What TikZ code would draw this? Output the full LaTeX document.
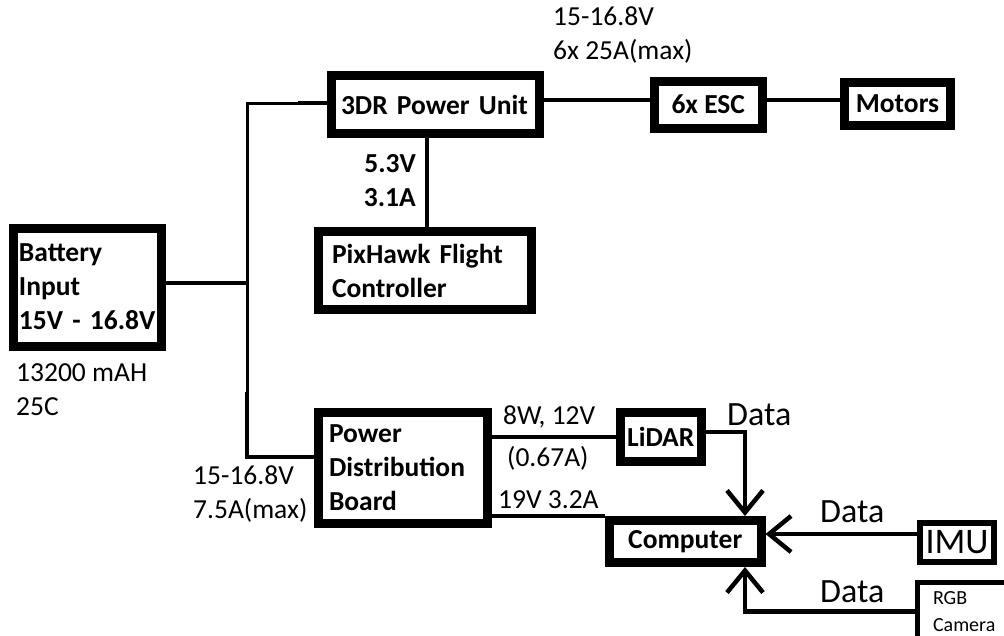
\documentclass[tikz,border=0pt]{standalone}
\usepackage{fontspec}
\setmainfont{Carlito}
\usetikzlibrary{arrows.meta}
\tikzset{
  blk/.style={draw, line width=9pt, inner sep=0pt, font=\bfseries\fontsize{27.5}{34}\selectfont},
  lbl/.style={inner sep=0pt, font=\fontsize{27.5}{34}\selectfont, align=left},
  blbl/.style={inner sep=0pt, font=\bfseries\fontsize{27.5}{34}\selectfont},
  wire/.style={line width=4.5pt},
  thinwire/.style={line width=3pt},
  dataarrow/.style={line width=4.5pt, -{Straight Barb[length=22pt,width=36pt]}},
  datalbl/.style={inner sep=0pt, font=\fontsize{34}{40}\selectfont},
}
\begin{document}
\begin{tikzpicture}[x=1pt,y=-1pt]
\clip (0,0) rectangle (1004,635);
\fill[white] (0,0) rectangle (1004,635);

% boxes
\node[blk, minimum width=148pt, minimum height=118pt, inner xsep=5.5pt, text width=137pt, align=left] (bat) at (87.5,287) {Battery\\Input\\15V - 16.8V};
\node[blk, minimum width=208pt, minimum height=58pt, inner xsep=9.5pt, text width=189pt, align=left] (pu) at (435.5,104.5) {3DR Power Unit};
\node[blk, minimum width=213pt, minimum height=78pt, inner xsep=13.5pt, text width=186pt, align=left] (pix) at (425,270.5) {PixHawk Flight\\Controller};
\node[blk, minimum width=107.5pt, minimum height=47pt] (esc) at (708.25,104.5) {6x ESC};
\node[blk, minimum width=106pt, minimum height=43pt] (mot) at (897.5,104) {Motors};
\node[blk, minimum width=169pt, minimum height=111pt, inner xsep=11pt, text width=147pt, align=left] (pdb) at (402.5,468) {Power\\Distribution\\Board};
\node[blk, minimum width=80.5pt, minimum height=49pt] (lid) at (660.75,437) {LiDAR};
\node[blk, minimum width=151.5pt, minimum height=42pt] (comp) at (685.25,541.5) {Computer};
\node[blk, line width=6pt, minimum width=74pt, minimum height=39pt, font=\fontsize{36}{40}\selectfont] (imu) at (957,542.5) {IMU};
\node[blk, line width=5pt, minimum width=112.5pt, minimum height=57.5pt, inner xsep=15.5pt, text width=81.5pt, align=left, font=\fontsize{20}{27}\selectfont] (rgb) at (973.75,611.25) {RGB\\Camera};

% labels
\node[lbl, anchor=west] (l1) at (553,35) {15-16.8V\\6x 25A(max)};
\node[blbl, anchor=east, align=right] (l2) at (416,181) {5.3V\\3.1A};
\node[lbl, anchor=west] (l3) at (16,389.5) {13200 mAH\\25C};
\node[lbl, anchor=west] (l4) at (193,494) {15-16.8V\\7.5A(max)};
\node[lbl, anchor=west] (l5) at (503,417) {8W, 12V};
\node[lbl, anchor=west] (l6) at (507,458) {(0.67A)};
\node[lbl, anchor=west] (l7) at (498,500) {19V 3.2A};
\node[datalbl, anchor=west] (d1) at (727,415) {Data};
\node[datalbl, anchor=west] (d2) at (820,512) {Data};
\node[datalbl, anchor=west] (d3) at (820,592) {Data};

% bus
\coordinate (bj) at (247,392);
\coordinate (stub) at (298,103);
\draw[thinwire] ([yshift=1.5pt]pu.west) -| (bj);
\draw[wire] (bj) |- ([yshift=11pt]pdb.west);
\draw[wire] ([yshift=1.5pt]pu.west) -- (stub);
\draw[wire] ([yshift=4pt]bat.east) -- ([yshift=4pt]bat.east -| bj);

% power connections
\draw[wire] ([xshift=-8.5pt]pu.south) -- ([xshift=-8.5pt]pu.south |- pix.north);
\draw[wire] ([yshift=4.5pt]pu.east) -- ([yshift=4.5pt]pu.east -| esc.west);
\draw[wire] ([yshift=4.5pt]esc.east) -- ([yshift=4.5pt]esc.east -| mot.west);
\draw[wire] (lid.west -| pdb.east) -- (lid.west);
\draw[wire] (comp.north west -| pdb.east) -- (comp.north west);

% data
\draw[dataarrow] ([yshift=5pt]lid.east) -| ([xshift=59.75pt]comp.north);
\draw[dataarrow] ([yshift=8.5pt]imu.west) -- ([yshift=8.5pt]imu.west -| comp.east);
\draw[dataarrow] (rgb.west) -| ([xshift=59.75pt]comp.south);
\end{tikzpicture}
\end{document}
